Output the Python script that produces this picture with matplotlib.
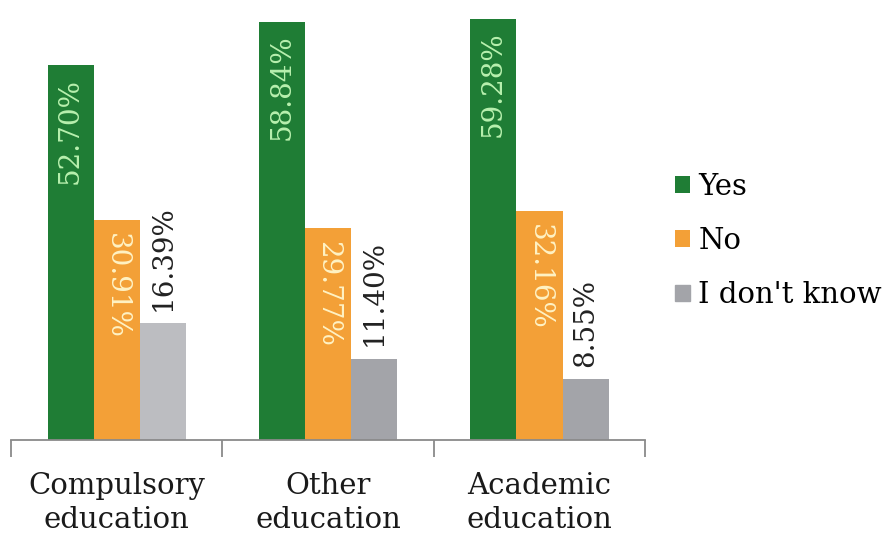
import numpy as np
import matplotlib.pyplot as plt

categories = ['Compulsory\neducation', 'Other\neducation', 'Academic\neducation']
series = ['Yes', 'No', "I don't know"]
yes_vals = [52.70, 58.84, 59.28]
no_vals = [30.91, 29.77, 32.16]
dk_vals = [16.39, 11.40, 8.55]

green = '#1f7d35'
orange = '#f3a037'
greys = ['#bcbdc1', '#a3a4a9', '#a3a4a9']

plt.rcParams['font.family'] = ['DejaVu Serif']

fig = plt.figure(figsize=(8.87, 5.39), dpi=100)
ax = fig.add_axes([0.0124, 0.184, 0.715, 0.816])

x = np.arange(len(categories))
w = 0.218
b1 = ax.bar(x - w, yes_vals, w, color=green, label=series[0])
b2 = ax.bar(x, no_vals, w, color=orange, label=series[1])
b3 = ax.bar(x + w, dk_vals, w, color=greys, label=series[2])

fs = 20
for r, v in zip(b1, yes_vals):
    ax.annotate(f'{v:.2f}%', (r.get_x() + r.get_width() / 2, v), xytext=(0, -9),
                textcoords='offset points', rotation=90, ha='center', va='top',
                color='#b8f0ae', fontsize=fs)
for r, v in zip(b2, no_vals):
    ax.annotate(f'{v:.2f}%', (r.get_x() + r.get_width() / 2, v), xytext=(0, -9),
                textcoords='offset points', rotation=270, ha='center', va='top',
                color='#fff2c4', fontsize=fs)
for r, v in zip(b3, dk_vals):
    ax.annotate(f'{v:.2f}%', (r.get_x() + r.get_width() / 2, v), xytext=(0, 9),
                textcoords='offset points', rotation=90, ha='center', va='bottom',
                color='#222222', fontsize=fs)

ax.set_xlim(-0.5, 2.5)
ax.set_ylim(0, 61.9)
ax.set_yticks([])
for s in ['top', 'right', 'left']:
    ax.spines[s].set_visible(False)
ax.spines['bottom'].set_color('#8a8a8a')
ax.spines['bottom'].set_linewidth(1.3)

ax.set_xticks([-0.5, 0.5, 1.5, 2.5])
ax.set_xticklabels([])
ax.tick_params(axis='x', length=12, width=1.3, color='#8a8a8a', direction='out')
ax.set_xticks(x, minor=True)
ax.set_xticklabels(categories, minor=True, fontsize=21, color='#1a1a1a',
                   linespacing=1.3)
ax.tick_params(axis='x', which='minor', length=0, pad=23)

handles = [b1[0], b2[0], b3[0]]
leg = fig.legend(handles, series, loc='center left', bbox_to_anchor=(0.761, 0.553),
                 frameon=False, fontsize=21, handlelength=0.5, handleheight=0.5,
                 handletextpad=0.3, labelspacing=0.9, borderpad=0,
                 borderaxespad=0)
leg.legend_handles[2].set_color('#a3a4a9')

fig.savefig('out.png', dpi=100)
